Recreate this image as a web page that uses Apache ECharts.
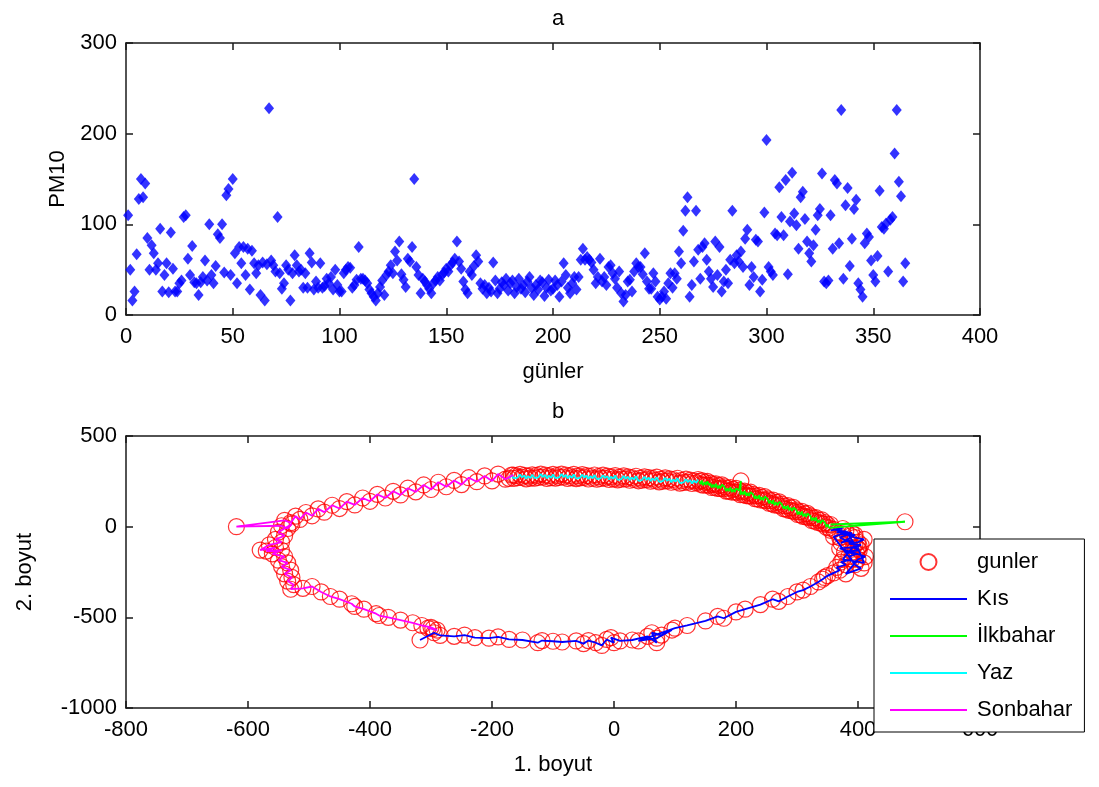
<!DOCTYPE html>
<html>
<head>
<meta charset="utf-8">
<script src="https://cdn.jsdelivr.net/npm/echarts@6/dist/echarts.min.js"></script>
<style>html,body{margin:0;padding:0;background:#fff}#c{width:1099px;height:787px}</style>
</head>
<body>
<div id="c"></div>
<script>
// ---- Panel a: daily PM10 (day 1..365) ----
const pm10 = [
110,50,16,26,67,128,150,130,145,85,
50,77,68,50,57,95,26,44,57,25,
91,51,26,26,35,38,108,110,62,44,
76,36,35,22,36,42,60,38,100,44,
35,54,89,85,100,47,132,139,44,150,
68,35,75,57,75,44,73,28,71,57,
46,55,22,58,16,56,228,60,55,48,
108,46,29,35,55,50,16,46,66,55,
48,50,30,46,30,68,58,28,37,30,
57,30,32,40,35,42,28,50,33,26,
26,46,50,53,52,30,33,39,75,40,
40,38,35,28,24,20,16,24,31,38,
22,44,48,55,46,70,60,81,45,39,
31,62,59,75,150,53,44,24,40,37,
33,29,24,35,38,42,38,44,47,51,
48,55,58,62,81,59,51,37,28,24,
48,44,54,66,59,35,29,33,24,30,
26,58,38,24,29,36,33,40,27,35,
38,24,31,40,29,33,25,37,42,30,
22,33,28,38,36,21,30,39,27,29,
38,33,20,37,57,44,30,24,35,42,
28,42,61,73,61,64,61,58,50,35,
42,62,37,42,33,53,55,46,40,30,
48,24,15,22,37,39,26,48,57,53,
53,45,68,37,29,29,46,37,20,17,
20,26,18,35,46,30,46,40,70,57,
93,115,130,20,33,59,115,72,40,75,
79,61,48,40,31,81,44,75,26,37,
50,35,61,115,57,66,59,70,53,84,
94,33,53,42,83,81,26,39,113,193,
53,48,44,90,88,141,108,88,149,45,
103,157,112,99,73,130,136,106,81,68,
59,77,94,110,117,156,37,35,38,110,
73,149,145,79,226,40,121,140,54,84,
117,127,35,28,20,79,90,86,60,44,
37,65,137,97,95,101,48,105,108,178,
226,147,131,37,57
];
const xTicksA = {min: 0, max: 400, step: 50};
const yTicksA = {min: 0, max: 300, step: 100};

// ---- Panel b: 2-D embedding of the days, by season ----
const kisPts = [
[-318,-625],[-295,-585],[-285,-600],[-262,-605],[-245,-598],[-228,-612],[-205,-615],[-190,-608],[-172,-622],[-150,-625],
[-125,-640],[-118,-628],[-100,-632],[-85,-636],[-62,-630],[-50,-645],[-42,-628],[-30,-640],[-20,-655],[-12,-622],
[0,-640],[-5,-612],[10,-630],[30,-625],[55,-605],[70,-640],[62,-585],[78,-598],[95,-570],[70,-615],[40,-630],
[100,-560],[120,-545],[150,-520],[170,-495],[180,-505],[200,-470],[215,-455],[240,-430],[260,-400],[270,-412],
[285,-385],[300,-360],[310,-350],[322,-330],[335,-305],[342,-290],[350,-270],[360,-255],[345,-280],[370,-240],
[365,-225],[380,-210],[372,-195],[390,-180],[385,-165],[398,-150],[378,-140],[402,-130],[392,-115],[405,-100],
[385,-95],[400,-85],[410,-70],[395,-60],[388,-50],[375,-40],[360,-55],[395,-210],[405,-230],[380,-260],
[400,-180],[412,-165],[390,-140],[370,-120],[402,-110],[385,-75],[372,-90],[395,-45],[365,-30],[380,-25],
[400,-120],[410,-200],[375,-180],[395,-100],[370,-60],[390,-35],[360,-15],[375,-10],[355,-20]
];
const ilkbaharPts = [
[355,12],[477,27],[353,-7],[350,12],[348,-3],[346,22],[343,14],[341,37],[339,19],[336,36],[334,23],
[331,50],[329,31],[327,49],[324,34],[322,59],[320,50],[317,73],[315,54],[313,71],[310,57],
[308,84],[306,65],[303,82],[301,67],[299,92],[296,83],[294,106],[292,87],[289,104],[287,90],
[285,116],[282,97],[280,114],[278,99],[275,124],[273,114],[271,137],[268,118],[266,134],[263,120],
[261,146],[259,127],[256,144],[254,129],[252,153],[249,143],[247,166],[245,146],[242,162],[240,147],
[238,173],[235,153],[233,170],[231,154],[228,178],[226,168],[224,190],[221,170],[219,186],[217,171],
[214,196],[212,176],[210,192],[207,176],[208,252],[205,200],[203,189],[200,211],[198,191],[195,206],[193,191],
[191,216],[188,196],[186,212],[184,196],[181,220],[179,209],[177,231],[174,211],[172,226],[170,211],
[167,236],[165,216],[163,232],[160,216],[158,240],[156,228],[153,250],[151,230],[149,245],[146,229],
[144,254],[142,234],[140,250]
];
const yazPts = [
[138,260],[135,242],[131,253],[128,238],[125,257],[121,246],[118,262],[114,244],[111,255],[108,240],
[104,267],[101,249],[97,260],[94,245],[91,264],[87,253],[84,269],[80,251],[77,262],[74,247],
[70,273],[67,255],[63,266],[60,251],[57,270],[53,259],[50,275],[46,257],[43,268],[40,253],
[36,278],[33,260],[29,271],[26,256],[23,275],[19,264],[16,280],[12,262],[9,273],[6,258],
[2,282],[-1,264],[-5,275],[-8,260],[-11,279],[-15,268],[-18,284],[-22,266],[-25,277],[-28,262],
[-32,285],[-35,267],[-39,278],[-42,263],[-45,282],[-49,271],[-52,287],[-56,269],[-59,280],[-62,265],
[-66,288],[-69,270],[-73,281],[-76,266],[-79,285],[-83,274],[-86,290],[-90,272],[-93,283],[-96,268],
[-100,288],[-103,270],[-107,281],[-110,266],[-113,285],[-117,274],[-120,290],[-124,272],[-127,283],[-130,268],
[-134,286],[-137,268],[-141,279],[-144,264],[-147,283],[-151,272],[-154,288],[-158,270],[-161,281],[-164,266],
[-168,284],[-172,266]
];
const sonbaharPts = [
[-165,285],[-178,262],[-190,290],[-200,252],[-212,280],[-225,248],[-238,270],[-250,232],[-262,255],[-275,220],
[-288,245],[-300,205],[-312,230],[-325,192],[-338,212],[-350,175],[-362,195],[-375,158],[-388,178],[-400,140],
[-412,158],[-425,120],[-438,138],[-450,100],[-462,118],[-475,80],[-485,98],[-495,60],[-505,78],[-515,40],
[-522,58],[-530,22],[-540,35],[-619,0],[-545,5],[-535,-10],[-528,15],[-550,-30],[-540,-50],[-555,-70],
[-545,-85],[-565,-100],[-580,-129],[-555,-115],[-570,-135],[-545,-130],[-560,-150],[-540,-165],[-550,-185],[-535,-200],
[-545,-220],[-530,-240],[-540,-260],[-528,-280],[-535,-300],[-525,-320],[-530,-345],[-510,-340],[-495,-330],[-480,-360],
[-465,-385],[-450,-400],[-430,-425],[-425,-440],[-410,-455],[-390,-480],[-385,-490],[-370,-500],[-350,-515],[-330,-530],
[-315,-545],[-300,-555],[-290,-570],[-305,-560],[-297,-563]
];
const xTicksB = {min: -800, max: 600, step: 200};
const yTicksB = {min: -1000, max: 500, step: 500};
const seasonNames = ['Kıs', 'İlkbahar', 'Yaz', 'Sonbahar'];
const seasonColors = ['#0000ff', '#00ff00', '#00ffff', '#ff00ff'];

// ---- build chart ----
const FONT = 'Liberation Sans, Arial, sans-serif';
const axisLineStyle = {color: '#1a1a1a', width: 1.5};
function xAx(grid, t, pos, name, gap) {
  return {
    gridIndex: grid, type: 'value', position: pos, min: t.min, max: t.max, interval: t.step,
    name: name || '', nameLocation: 'middle', nameGap: gap || 0,
    nameTextStyle: {fontSize: 22, color: '#000', fontFamily: FONT},
    axisLine: {show: true, onZero: false, lineStyle: axisLineStyle},
    axisTick: {show: true, inside: true, length: 7, lineStyle: axisLineStyle},
    axisLabel: {show: pos === 'bottom', margin: 11, fontSize: 22, color: '#000', fontFamily: FONT,
      formatter: v => String(v)},
    splitLine: {show: false}
  };
}
function yAx(grid, t, pos, name, gap) {
  return {
    gridIndex: grid, type: 'value', position: pos, min: t.min, max: t.max, interval: t.step,
    name: name || '', nameLocation: 'middle', nameGap: gap || 0, nameRotate: 90,
    nameTextStyle: {fontSize: 22, color: '#000', fontFamily: FONT},
    axisLine: {show: true, onZero: false, lineStyle: axisLineStyle},
    axisTick: {show: true, inside: true, length: 7, lineStyle: axisLineStyle},
    axisLabel: {show: pos === 'left', margin: 9, fontSize: 22, color: '#000', fontFamily: FONT,
      formatter: v => String(v)},
    splitLine: {show: false}
  };
}

const seasonPts = [kisPts, ilkbaharPts, yazPts, sonbaharPts];
const allPts = [].concat(kisPts, ilkbaharPts, yazPts, sonbaharPts);

const series = [
  {
    type: 'scatter', xAxisIndex: 0, yAxisIndex: 0, symbol: 'diamond', symbolSize: [10, 12],
    itemStyle: {color: '#0000ff'}, data: pm10.map((v, i) => [i + 1, v]), z: 2
  },
  {
    name: 'gunler', type: 'scatter', xAxisIndex: 2, yAxisIndex: 2, symbol: 'circle', symbolSize: 16,
    itemStyle: {color: 'rgba(255,255,255,0)', borderColor: '#ff0000', borderWidth: 1.2},
    data: allPts, z: 2
  }
];
seasonNames.forEach((n, k) => {
  series.push({
    name: n, type: 'line', xAxisIndex: 2, yAxisIndex: 2, showSymbol: false, symbol: 'none',
    lineStyle: {color: seasonColors[k], width: 1.8}, itemStyle: {color: seasonColors[k]},
    data: seasonPts[k], z: 3
  });
});

const linePath = 'path://M0,0H80V2H0Z';
const option = {
  animation: false,
  backgroundColor: '#fff',
  textStyle: {fontFamily: FONT},
  title: [
    {text: 'a', left: 553, top: 3, textAlign: 'center', textStyle: {fontSize: 22, fontWeight: 'normal', color: '#000', fontFamily: FONT}},
    {text: 'b', left: 553, top: 396, textAlign: 'center', textStyle: {fontSize: 22, fontWeight: 'normal', color: '#000', fontFamily: FONT}}
  ],
  grid: [
    {left: 126, top: 43, width: 854, height: 272},
    {left: 126, top: 436, width: 854, height: 272}
  ],
  xAxis: [
    xAx(0, xTicksA, 'bottom', 'günler', 46),
    xAx(0, xTicksA, 'top'),
    xAx(1, xTicksB, 'bottom', '1. boyut', 46),
    xAx(1, xTicksB, 'top')
  ],
  yAxis: [
    yAx(0, yTicksA, 'left', 'PM10', 20),
    yAx(0, yTicksA, 'right'),
    yAx(1, yTicksB, 'left', '2. boyut', 90),
    yAx(1, yTicksB, 'right')
  ],
  legend: {
    orient: 'vertical', left: 874, top: 539, padding: [12, 12, 11, 16],
    itemWidth: 77, itemHeight: 16, itemGap: 15, selectedMode: false,
    backgroundColor: '#fff', borderColor: '#000', borderWidth: 1,
    textStyle: {fontSize: 22, color: '#000', lineHeight: 22, fontFamily: FONT, padding: [0, 0, 0, 5]},
    data: [
      {name: 'gunler', icon: 'circle'},
      {name: seasonNames[0], icon: linePath},
      {name: seasonNames[1], icon: linePath},
      {name: seasonNames[2], icon: linePath},
      {name: seasonNames[3], icon: linePath}
    ]
  },
  series: series
};
const chart = echarts.init(document.getElementById('c'), null, {renderer: 'canvas'});
chart.setOption(option);
</script>
</body>
</html>
